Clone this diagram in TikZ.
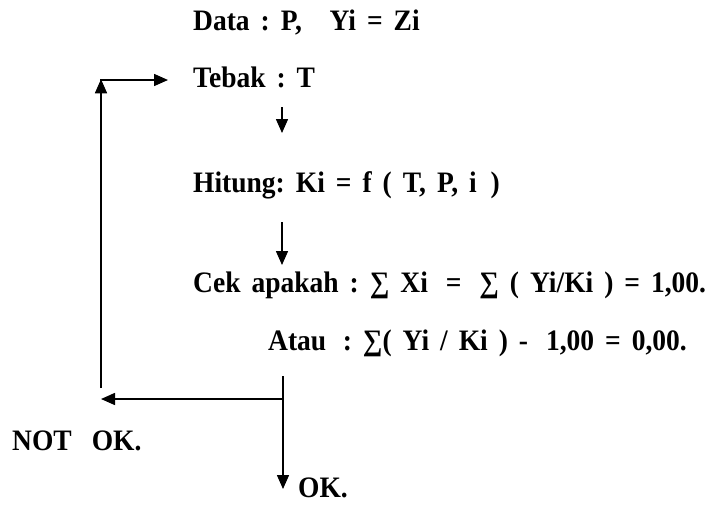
\documentclass[tikz,border=0pt]{standalone}
\usepackage{fontspec}
\setmainfont{Liberation Serif}
\usetikzlibrary{arrows.meta}
\newcommand{\txtfont}{\fontsize{27.5}{33}\selectfont\bfseries\frenchspacing\spaceskip=0.4em plus 0.1em minus 0.1em\relax}
\newcommand{\tl}[1]{\scalebox{1}[1.08]{#1}}
\begin{document}
\begin{tikzpicture}[x=1pt,y=-1pt,
  txt/.style={anchor=base west,inner sep=0pt,font=\txtfont},
  conn/.style={line width=1.5pt},
  arr/.style={conn,-{Triangle[length=14pt,width=12pt]}}]
\useasboundingbox (0,0) rectangle (707,504);
\node[txt] (data) at (193,30) {\tl{Data : P,\hspace{1em}Yi = Zi}};
\node[txt] (tebak) at (193,87) {\tl{Tebak : T}};
\node[txt] (hitung) at (193,192) {\tl{Hitung: Ki = f ( T, P, i\hspace{0.5em})}};
\node[txt] (cek) at (193,292) {\tl{Cek apakah : ∑ Xi\hspace{0.65em}=\hspace{0.65em}∑ ( Yi/Ki ) = 1,00.}};
\node[txt] (atau) at (268,350) {\tl{Atau\hspace{0.6em}: ∑( Yi / Ki ) -\hspace{0.65em}1,00 = 0,00.}};
\node[txt] (notok) at (12,450) {\tl{NOT\hspace{0.73em}OK.}};
\node[txt] (ok) at (298,497) {\tl{OK.}};
\coordinate (a1s) at (282,107);
\coordinate (a1e) at (282,133);
\coordinate (a2s) at (282,222);
\coordinate (a2e) at (282,265);
\coordinate (bs) at (283,376);
\coordinate (bj) at (283,399);
\coordinate (be) at (283,489);
\coordinate (bl) at (101,399);
\coordinate (lb) at (101,388);
\coordinate (lt) at (101,80);
\coordinate (rt) at (168,80);
\draw[arr] (a1s) -- (a1e);
\draw[arr] (a2s) -- (a2e);
\draw[arr] (bs) -- (be);
\draw[arr] (bj) -- (bl);
\draw[arr] (lb) -- ([yshift=0.75pt]lt);
\draw[arr] ([xshift=-0.75pt]lt) -- (rt);
\end{tikzpicture}
\end{document}
